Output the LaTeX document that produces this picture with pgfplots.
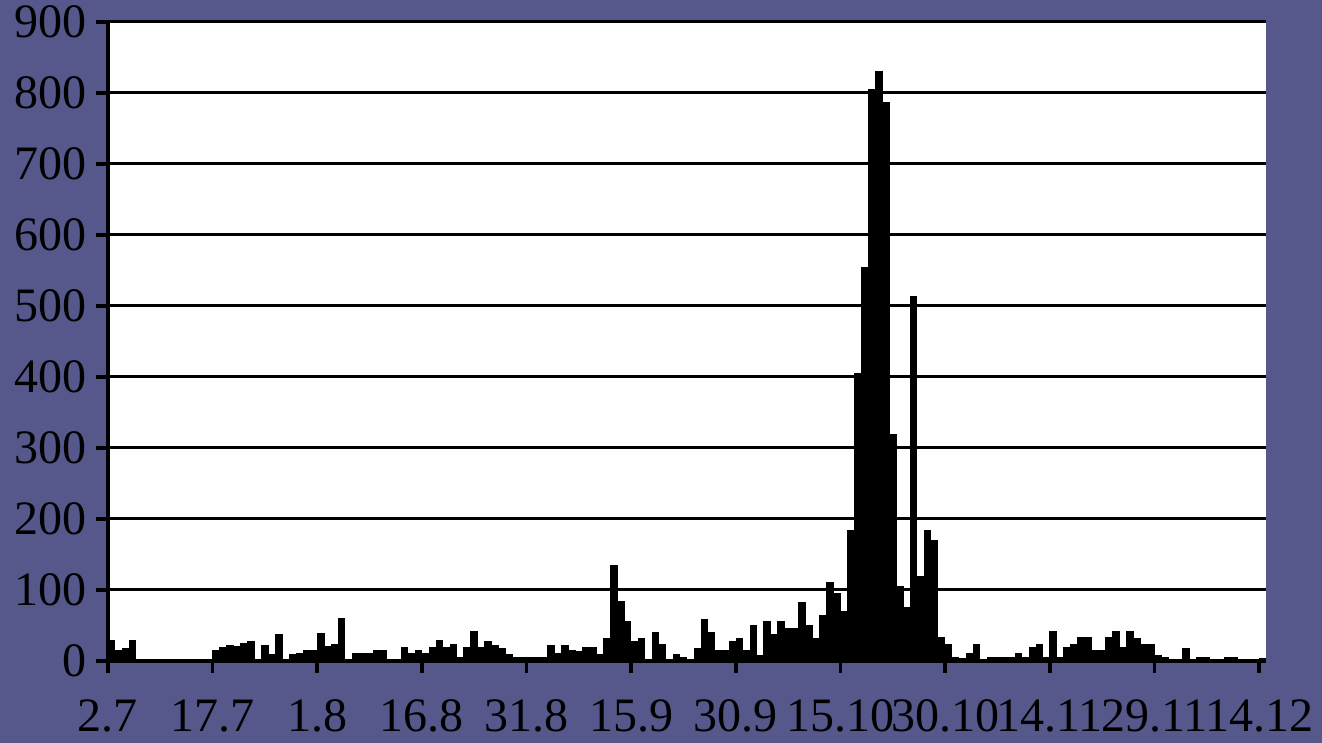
\documentclass[border=0pt]{standalone}
\usepackage{fontspec}
\setmainfont{Liberation Serif}
\usepackage{pgfplots}
\pgfplotsset{compat=1.18}
\usepackage{pgfplotstable}
\definecolor{slidebg}{RGB}{86,88,140}

\pgfplotstableread{
d v
0 28
1 14
2 18
3 28
15 14
16 19
17 22
18 20
19 25
20 27
21 1
22 22
23 9
24 37
25 1
26 9
27 10
28 14
29 14
30 38
31 20
32 23
33 59
34 2
35 10
36 10
37 10
38 14
39 14
42 19
43 10
44 14
45 10
46 19
47 28
48 19
49 23
50 4
51 19
52 41
53 19
54 27
55 21
56 18
57 9
58 4
59 4
60 4
61 4
62 4
63 21
64 10
65 21
66 15
67 13
68 19
69 19
70 9
71 32
72 134
73 83
74 56
75 27
76 32
78 40
79 23
80 2
81 9
82 4
83 2
84 18
85 58
86 40
87 15
88 14
89 27
90 32
91 14
92 50
93 8
94 55
95 37
96 56
97 45
98 45
99 82
100 50
101 32
102 64
103 110
104 95
105 69
106 184
107 404
108 554
109 804
110 830
111 786
112 319
113 105
114 75
115 513
116 119
117 183
118 169
119 33
120 23
121 4
122 3
123 10
124 23
125 2
126 4
127 4
128 4
129 4
130 10
131 4
132 19
133 23
134 4
135 41
136 4
137 19
138 23
139 33
140 33
141 15
142 14
143 33
144 41
145 19
146 41
147 31
148 23
149 23
150 7
151 4
152 2
153 2
154 18
155 2
156 4
157 4
158 1
159 1
160 4
161 4
165 3
}\datatable

\begin{document}
\begin{tikzpicture}
\path[use as bounding box, fill=slidebg] (0,0) rectangle (661pt,371.5pt);
\begin{axis}[
  at={(54pt,41pt)}, anchor=south west,
  scale only axis, width=579pt, height=319.5pt,
  xmin=0, xmax=166, ymin=0, ymax=900,
  clip=false,
  axis line style={draw=none},
  axis background/.style={fill=white},
  ytick={0,100,...,900},
  xtick={0,15,...,165},
  xticklabels={2.7,17.7,1.8,16.8,31.8,15.9,30.9,15.10,30.10,14.11,29.11,14.12},
  xtick pos=bottom, ytick pos=left,
  ymajorgrids, grid style={black, line width=1.5pt},
  ticklabel style={font=\fontsize{24}{24}\selectfont, black},
  xticklabel style={yshift=-10pt},
  yticklabel style={xshift=-1pt},
  /pgf/number format/assume math mode=true,
  ybar, bar width=0.88,
  major tick length=6pt,
  tick align=outside,
]
\addplot[fill=black, draw=black, line width=0.7pt] table[x expr=\thisrow{d}+0.5, y=v] {\datatable};
\draw[black, line width=1.6pt] (rel axis cs:0,1) -- (rel axis cs:0,0) -- (rel axis cs:1,0);
\pgfplotsinvokeforeach{0,15,...,165}{\draw[black, line width=1.8pt] (axis cs:#1,0) -- ++(0pt,-6pt);}
\pgfplotsinvokeforeach{0,100,...,900}{\draw[black, line width=1.8pt] (axis cs:0,#1) -- ++(-6pt,0pt);}
\end{axis}
\end{tikzpicture}
\end{document}
